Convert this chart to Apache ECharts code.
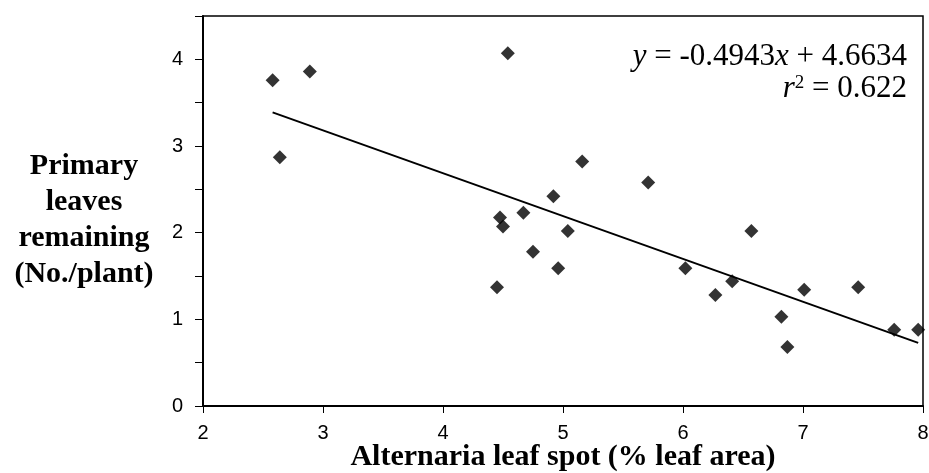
<!DOCTYPE html>
<html>
<head>
<meta charset="utf-8">
<script src="https://cdn.jsdelivr.net/npm/echarts@6/dist/echarts.min.js"></script>
<style>
  html, body { margin: 0; padding: 0; background: #fff; }
  #chart { width: 929px; height: 473px; }
</style>
</head>
<body>
<div id="chart"></div>
<script>
// leaf spot (% leaf area) vs primary leaves remaining (No./plant)
const leafSpot = [2.58, 2.64, 2.89, 4.45, 4.475, 4.50, 4.54, 4.67, 4.75, 4.92, 4.96, 5.04, 5.16,
  5.71, 6.02, 6.27, 6.41, 6.57, 6.82, 6.87, 7.01, 7.46, 7.76, 7.96];
const leavesLeft = [3.76, 2.87, 3.86, 1.37, 2.175, 2.07, 4.07, 2.23, 1.78, 2.42, 1.59, 2.02, 2.82,
  2.58, 1.59, 1.28, 1.44, 2.02, 1.03, 0.68, 1.34, 1.37, 0.88, 0.88];

// trendline from the printed equation
const slope = -0.4943;
const intercept = 4.6634;
const rSquared = "0.622";

const xTicks = [2, 3, 4, 5, 6, 7, 8];
const yTicks = [0, 1, 2, 3, 4];

const chart = echarts.init(document.getElementById("chart"));

const points = leafSpot.map((x, i) => [x, leavesLeft[i]]);
const xLo = Math.min(...leafSpot);
const xHi = Math.max(...leafSpot);
const trend = [[xLo, slope * xLo + intercept], [xHi, slope * xHi + intercept]];

const option = {
  animation: false,
  grid: {
    left: 203,
    right: 6,
    top: 16,
    bottom: 67,
    outerBoundsMode: "none",
    show: true,
    borderColor: "#000",
    borderWidth: 1.5,
  },
  xAxis: {
    type: "value",
    min: xTicks[0],
    max: xTicks[xTicks.length - 1],
    interval: 1,
    splitLine: { show: false },
    axisLine: { lineStyle: { color: "#000", width: 2 } },
    axisTick: { length: 7, lineStyle: { color: "#000" } },
    axisLabel: {
      margin: 17,
      color: "#000",
      fontSize: 20,
      fontFamily: "Liberation Sans",
    },
    name: "Alternaria leaf spot (% leaf area)",
    nameLocation: "middle",
    nameGap: 36,
    nameMoveOverlap: false,
    nameTextStyle: {
      color: "#000",
      fontSize: 30,
      fontWeight: "bold",
      fontFamily: "Liberation Serif",
    },
  },
  yAxis: {
    type: "value",
    min: 0,
    max: 4.5,
    interval: 0.5,
    splitLine: { show: false },
    axisLine: { lineStyle: { color: "#000", width: 2 } },
    axisTick: { length: 8, lineStyle: { color: "#000" } },
    axisLabel: {
      margin: 20,
      color: "#000",
      fontSize: 20,
      fontFamily: "Liberation Sans",
      formatter: (v) => (yTicks.includes(v) ? String(v) : ""),
    },
  },
  graphic: [
    {
      // y-axis title, placed beside the axis like the original
      type: "text",
      x: 84,
      y: 220,
      style: {
        text: "Primary\nleaves\nremaining\n(No./plant)",
        align: "center",
        verticalAlign: "middle",
        fill: "#000",
        font: "bold 30px 'Liberation Serif'",
        lineHeight: 36,
      },
    },
    {
      type: "text",
      x: 907,
      y: 57,
      style: {
        text: "{i|y} = -0.4943{i|x} + 4.6634",
        align: "right",
        verticalAlign: "middle",
        fill: "#000",
        font: "31px 'Liberation Serif'",
        rich: {
          i: { fontStyle: "italic", fontSize: 31, fontFamily: "Liberation Serif" },
        },
      },
    },
    {
      type: "text",
      x: 907,
      y: 89,
      style: {
        text: "{i|r}{sup|2} = " + rSquared,
        align: "right",
        verticalAlign: "middle",
        fill: "#000",
        font: "31px 'Liberation Serif'",
        rich: {
          i: { fontStyle: "italic", fontSize: 31, fontFamily: "Liberation Serif" },
          sup: { fontSize: 19, fontFamily: "Liberation Serif", verticalAlign: "top", padding: [0, 0, 12, 0] },
        },
      },
    },
  ],
  series: [
    {
      type: "line",
      data: trend,
      symbol: "none",
      lineStyle: { color: "#000", width: 2 },
      silent: true,
      z: 1,
    },
    {
      type: "scatter",
      data: points,
      symbol: "diamond",
      symbolSize: 14,
      itemStyle: { color: "#000" },
      z: 2,
    },
  ],
};

chart.setOption(option);
</script>
</body>
</html>
